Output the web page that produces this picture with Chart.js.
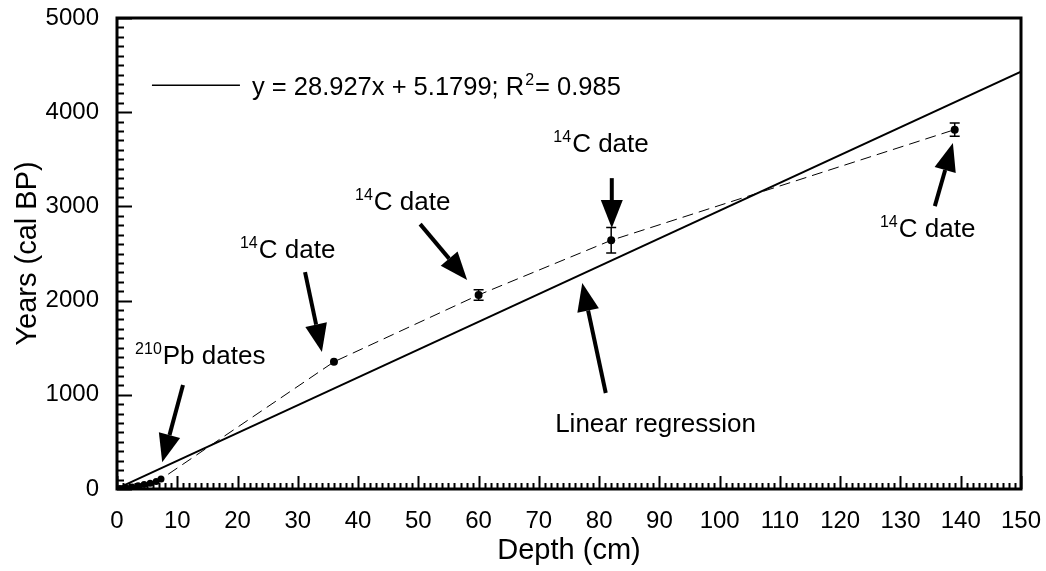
<!DOCTYPE html>
<html>
<head>
<meta charset="utf-8">
<title>Age-depth model</title>
<script src="https://cdn.jsdelivr.net/npm/chart.js@4.4.1/dist/chart.umd.min.js"></script>
<style>
  html, body { margin: 0; padding: 0; background: #fff; }
  #wrap { width: 1046px; height: 571px; }
</style>
</head>
<body>
<div id="wrap"><canvas id="ageChart" width="1046" height="571"></canvas></div>
<script>
/* ── Data ─────────────────────────────────────────────────── */
const pbDepth   = [0.5, 1.5, 2.5, 3.5, 4.5, 5.5, 6.5, 7.3];
const pbAge     = [5, 12, 22, 35, 48, 62, 80, 105];

const c14Depth  = [36, 60, 82, 139];
const c14Age    = [1350, 2060, 2640, 3815];
const c14Err    = [0, 55, 135, 70];

const regDepth  = [0, 150];
const regAge    = [5, 4430];

const xTicks    = [0, 10, 20, 30, 40, 50, 60, 70, 80, 90, 100, 110, 120, 130, 140, 150];
const yTicks    = [0, 1000, 2000, 3000, 4000, 5000];

const legendText = "y = 28.927x + 5.1799; R";
const legendTail = "= 0.985";

/* annotation labels: [sup, main, x, y] (data units, left/baseline) */
const labels = [
  ["210", "Pb dates", 3.0, 1327],
  ["14",  "C date",  20.4, 2451],
  ["14",  "C date",  39.5, 2961],
  ["14",  "C date",  72.4, 3576],
  ["14",  "C date", 126.6, 2674],
  ["",    "Linear regression", 72.7, 605],
];
/* arrows: [tailX, tailY, tipX, tipY] in data units */
const arrows = [
  [10.95, 1104, 7.5, 285],
  [31.2, 2303, 34.0, 1454],
  [50.3, 2812, 58.1, 2218],
  [82.1, 3300, 82.1, 2770],
  [135.7, 3003, 138.7, 3672],
  [81.1, 1019, 77.2, 2186],
];

const FONT = "'Liberation Sans', Arial, Helvetica, sans-serif";

/* ── Helpers ─────────────────────────────────────────────── */
function toXY(xs, ys) { return xs.map((x, i) => ({ x, y: ys[i] })); }

function drawArrow(ctx, x1, y1, x2, y2) {
  const ang = Math.atan2(y2 - y1, x2 - x1);
  const headLen = 28, headW = 11;
  const bx = x2 - headLen * Math.cos(ang), by = y2 - headLen * Math.sin(ang);
  ctx.beginPath();
  ctx.lineWidth = 4;
  ctx.moveTo(x1, y1);
  ctx.lineTo(bx, by);
  ctx.stroke();
  ctx.beginPath();
  ctx.moveTo(x2, y2);
  ctx.lineTo(bx + headW * Math.sin(ang), by - headW * Math.cos(ang));
  ctx.lineTo(bx - headW * Math.sin(ang), by + headW * Math.cos(ang));
  ctx.closePath();
  ctx.fill();
}

/* ── Frame, inward ticks, error bars, annotations ─────────── */
const decorPlugin = {
  id: "decor",
  afterDatasetsDraw(chart) {
    const { ctx, chartArea: a, scales: { x, y } } = chart;
    ctx.save();
    ctx.strokeStyle = "#000";
    ctx.fillStyle = "#000";

    // error bars
    ctx.lineWidth = 1.5;
    c14Depth.forEach((d, i) => {
      if (!c14Err[i]) return;
      const px = x.getPixelForValue(d);
      const top = y.getPixelForValue(c14Age[i] + c14Err[i]);
      const bot = y.getPixelForValue(c14Age[i] - c14Err[i]);
      ctx.beginPath();
      ctx.moveTo(px, top); ctx.lineTo(px, bot);
      ctx.moveTo(px - 5, top); ctx.lineTo(px + 5, top);
      ctx.moveTo(px - 5, bot); ctx.lineTo(px + 5, bot);
      ctx.stroke();
    });

    // ticks (inside)
    ctx.lineWidth = 2;
    ctx.beginPath();
    for (let v = 0; v <= 150; v++) {
      const px = Math.round(x.getPixelForValue(v)) + 0.5;
      const len = v % 10 === 0 ? 13 : 6;
      ctx.moveTo(px, a.bottom); ctx.lineTo(px, a.bottom - len);
    }
    for (let v = 0; v <= 5000; v += 100) {
      const py = Math.round(y.getPixelForValue(v)) + 0.5;
      const len = v % 1000 === 0 ? 15 : 7;
      ctx.moveTo(a.left, py); ctx.lineTo(a.left + len, py);
    }
    ctx.stroke();

    // frame
    ctx.lineWidth = 3;
    ctx.strokeRect(a.left, a.top, a.right - a.left, a.bottom - a.top);

    // legend
    const ly = y.getPixelForValue(4287);
    ctx.lineWidth = 1.5;
    ctx.beginPath();
    ctx.moveTo(x.getPixelForValue(5.8), ly);
    ctx.lineTo(x.getPixelForValue(20.4), ly);
    ctx.stroke();
    ctx.textBaseline = "alphabetic";
    ctx.textAlign = "left";
    ctx.font = "25.5px " + FONT;
    let tx = x.getPixelForValue(22.4);
    const tb = ly + 10;
    ctx.fillText(legendText, tx, tb);
    tx += ctx.measureText(legendText).width;
    ctx.font = "16px " + FONT;
    ctx.fillText("2", tx + 1, tb - 10);
    tx += ctx.measureText("2").width + 2;
    ctx.font = "25.5px " + FONT;
    ctx.fillText(legendTail, tx, tb);

    // labels
    labels.forEach(([sup, main, dx, dy]) => {
      let px = x.getPixelForValue(dx);
      const py = y.getPixelForValue(dy);
      if (sup) {
        ctx.font = "16px " + FONT;
        ctx.fillText(sup, px, py - 10);
        px += ctx.measureText(sup).width + 1;
      }
      ctx.font = "26px " + FONT;
      ctx.fillText(main, px, py);
    });

    // arrows
    arrows.forEach(([x1, y1, x2, y2]) => {
      drawArrow(ctx,
        x.getPixelForValue(x1), y.getPixelForValue(y1),
        x.getPixelForValue(x2), y.getPixelForValue(y2));
    });

    ctx.restore();
  }
};

/* ── Chart ───────────────────────────────────────────────── */
const linkPts = toXY(pbDepth.concat(c14Depth), pbAge.concat(c14Age));

new Chart(document.getElementById("ageChart").getContext("2d"), {
  type: "scatter",
  data: {
    datasets: [
      {
        label: "Linear regression",
        data: toXY(regDepth, regAge),
        showLine: true,
        borderColor: "#000",
        borderWidth: 2,
        pointRadius: 0,
      },
      {
        label: "link",
        data: linkPts,
        showLine: true,
        borderColor: "#000",
        borderWidth: 1,
        borderDash: [11, 6],
        pointRadius: 0,
      },
      {
        label: "210Pb",
        data: toXY(pbDepth, pbAge),
        pointRadius: 3.5,
        pointBackgroundColor: "#000",
        pointBorderColor: "#000",
        borderWidth: 0,
      },
      {
        label: "14C",
        data: toXY(c14Depth, c14Age),
        pointRadius: 4,
        pointBackgroundColor: "#000",
        pointBorderColor: "#000",
        borderWidth: 0,
      },
    ],
  },
  options: {
    responsive: false,
    animation: false,
    devicePixelRatio: 1,
    layout: { padding: { top: 18, right: 25, left: 0, bottom: 0 } },
    plugins: { legend: { display: false }, tooltip: { enabled: false } },
    scales: {
      x: {
        type: "linear", min: 0, max: 150,
        afterBuildTicks: s => { s.ticks = xTicks.map(v => ({ value: v })); },
        afterFit: s => { s.height = 82; s.paddingLeft = 0; s.paddingRight = 0; },
        grid: { display: false },
        border: { display: false },
        ticks: { color: "#000", padding: 10, maxRotation: 0,
                 callback: v => String(v), font: { family: FONT, size: 24 } },
        title: { display: true, text: "Depth (cm)", color: "#000",
                 padding: { top: 0, bottom: 3 }, font: { family: FONT, size: 29 } },
      },
      y: {
        type: "linear", min: 0, max: 5000,
        afterBuildTicks: s => { s.ticks = yTicks.map(v => ({ value: v })); },
        afterFit: s => { s.width = 117; s.paddingTop = 0; s.paddingBottom = 0; },
        grid: { display: false },
        border: { display: false },
        ticks: { color: "#000", padding: 10,
                 callback: v => String(v), font: { family: FONT, size: 24 } },
        title: { display: true, text: "Years (cal BP)", color: "#000",
                 padding: { top: 11, bottom: 0 }, font: { family: FONT, size: 29 } },
      },
    },
  },
  plugins: [decorPlugin],
});
</script>
</body>
</html>
